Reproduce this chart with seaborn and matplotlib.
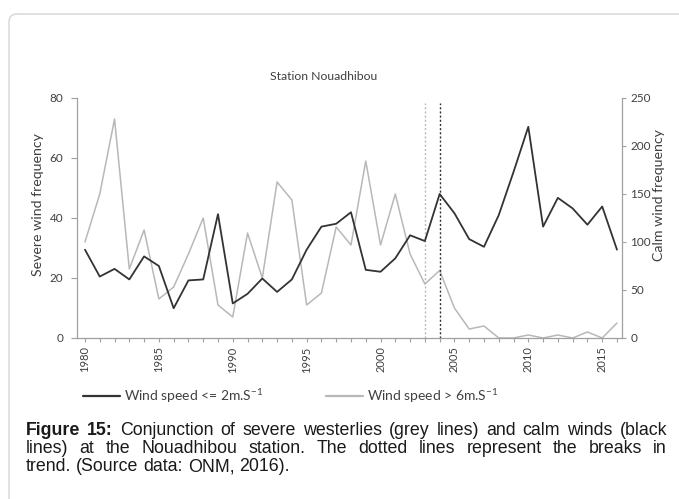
import seaborn as sns
import pandas as pd
import matplotlib.pyplot as plt
from matplotlib.patches import FancyBboxPatch
from matplotlib.transforms import IdentityTransform
from matplotlib.lines import Line2D

years = list(range(1980, 2017))
# calm winds (<= 2 m/s), right axis
calm = [92, 64, 72, 61, 85, 75, 31, 60, 61, 129, 36, 46, 62, 48, 61, 92, 116, 119, 131,
        71, 69, 83, 107, 101, 150, 130, 103, 95, 128, 173, 220, 116, 146, 135, 118, 137, 92]
# severe winds (> 6 m/s), left axis
severe = [32, 48, 73, 23, 36, 13, 17, 28, 40, 11, 7, 35, 20, 52, 46, 11, 15, 37, 31,
          59, 31, 48, 28, 18, 22.5, 10, 3, 4, 0, 0, 1, 0, 1, 0, 2, 0, 5]
breaks = {'severe': 2003, 'calm': 2004}

label_calm = 'Wind speed <= 2m.S$^{\\mathregular{-1}}$'
label_severe = 'Wind speed > 6m.S$^{\\mathregular{-1}}$'

df = pd.DataFrame({'year': years, 'calm': calm, 'severe': severe})

sns.set_style('white')
plt.rcParams['font.family'] = ['Lato', 'DejaVu Sans']

W, H = 679, 499
fig = plt.figure(figsize=(W / 100, H / 100), dpi=100)
ax = fig.add_axes([77 / W, 1 - 338 / H, (622 - 77) / W, (338 - 98) / H])
ax2 = ax.twinx()

dark = '#333333'
light = '#b8b8b8'
spine_c = '#a0a0a0'
txt_c = '#404040'

sns.lineplot(x='year', y='severe', data=df, ax=ax, color=light, linewidth=1.1)
sns.lineplot(x='year', y='calm', data=df, ax=ax2, color=dark, linewidth=1.3)

ax.axvline(breaks['severe'], ymin=0, ymax=0.979, color=light, ls=(0, (1.5, 1.5)), lw=1)
ax.axvline(breaks['calm'], ymin=0, ymax=0.979, color=dark, ls=(0, (1.5, 1.5)), lw=1)

ax.set_xlim(1979.46, 2016.34)
ax.set_ylim(0, 80)
ax2.set_ylim(0, 250)
ax.set_yticks(range(0, 81, 20))
ax2.set_yticks(range(0, 251, 50))
ax.set_xticks(years)
ax.set_xticklabels([str(y) if y % 5 == 0 else '' for y in years], rotation=90)

for a in (ax, ax2):
    a.set_xlabel('')
    a.set_ylabel('')
    a.spines['top'].set_visible(False)
    for s in ('left', 'right', 'bottom'):
        a.spines[s].set_color(spine_c)
        a.spines[s].set_linewidth(0.9)
ax.spines['right'].set_visible(False)
ax2.spines['left'].set_visible(False)
ax2.spines['bottom'].set_visible(False)

ax.tick_params(axis='x', length=3, width=0.8, color=spine_c, labelsize=8, labelcolor=txt_c, pad=3,
               bottom=True)
ax.tick_params(axis='y', length=4, width=0.8, color=spine_c, labelsize=8.5, labelcolor=txt_c, pad=6,
               left=True)
ax2.tick_params(axis='y', length=3, width=0.8, color=spine_c, labelsize=8.5, labelcolor=txt_c, pad=3,
                right=True)

fig.text(324 / W, 1 - 76 / H, 'Station Nouadhibou', ha='center', va='center', fontsize=8.8, color=txt_c)
fig.text(38 / W, 1 - 205 / H, 'Severe wind frequency', rotation=90, ha='center', va='center',
         fontsize=10.2, color=txt_c)
fig.text(659 / W, 1 - 195 / H, 'Calm wind frequency', rotation=90, ha='center', va='center',
         fontsize=10.2, color=txt_c)

handles = [Line2D([], [], color=dark, lw=1.6), Line2D([], [], color=light, lw=1.6)]
fig.legend(handles, [label_calm, label_severe], loc='center left', ncol=2,
           bbox_to_anchor=(83 / W, 1 - 396 / H), frameon=False, fontsize=10,
           handlelength=2.66, handletextpad=0.3, columnspacing=4.5, borderpad=0, borderaxespad=0,
           labelcolor=txt_c)

# rounded frame around the figure
frame = FancyBboxPatch((9, -40), 760, H - 14 + 40, boxstyle='round,pad=0,rounding_size=8',
                       transform=IdentityTransform(), fill=False, edgecolor='#d4d4d4', lw=1)
fig.patches.append(frame)

# caption, justified like the source
cap_font = dict(family=['Liberation Sans', 'DejaVu Sans'], fontsize=12.8, color='#1a1a1a', va='baseline')
renderer = fig.canvas.get_renderer()


def caption_line(words, base_y, x0, x1, n_bold=0, justify=True):
    texts = [fig.text(0, 0, w, weight='bold' if i < n_bold else 'normal', **cap_font)
             for i, w in enumerate(words)]
    widths = [t.get_window_extent(renderer).width for t in texts]
    if justify:
        gap = (x1 - x0 - sum(widths)) / (len(words) - 1)
    else:
        probe = fig.text(0, 0, 'a a', **cap_font)
        probe2 = fig.text(0, 0, 'aa', **cap_font)
        gap = probe.get_window_extent(renderer).width - probe2.get_window_extent(renderer).width
        probe.remove()
        probe2.remove()
    x = x0
    for t, w in zip(texts, widths):
        t.set_position((x / W, 1 - base_y / H))
        x += w + gap


caption_line('Figure 15: Conjunction of severe westerlies (grey lines) and calm winds (black'.split(),
             435, 26, 667, n_bold=2)
caption_line('lines) at the Nouadhibou station. The dotted lines represent the breaks in'.split(),
             453, 26, 667)
caption_line('trend. (Source data: ONM, 2016).'.split(), 471, 26, 667, justify=False)

fig.savefig('out.png', dpi=100)
